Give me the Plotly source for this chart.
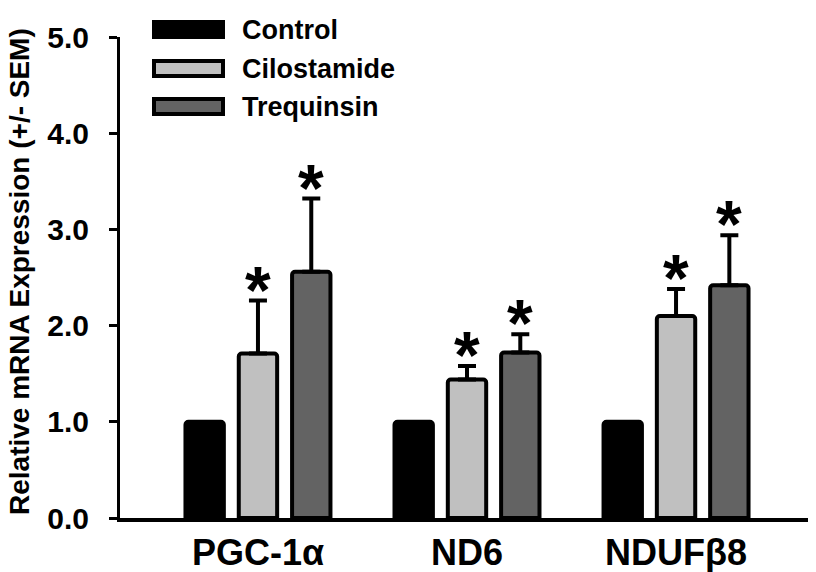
import plotly.graph_objects as go

# ---------------- data ----------------
genes = ["PGC-1α", "ND6", "NDUFβ8"]
series_names = ["Control", "Cilostamide", "Trequinsin"]
control = [1.0, 1.0, 1.0]
cilostamide = [1.71, 1.44, 2.10]
trequinsin = [2.56, 1.72, 2.42]
control_sem = [0.0, 0.0, 0.0]
cilostamide_sem = [0.55, 0.14, 0.28]
trequinsin_sem = [0.76, 0.19, 0.52]
control_sig = [False, False, False]
cilostamide_sig = [True, True, True]
trequinsin_sig = [True, True, True]
y_ticks = [0, 1, 2, 3, 4, 5]
y_tick_labels = ["0.0", "1.0", "2.0", "3.0", "4.0", "5.0"]
y_title = "Relative mRNA Expression (+/- SEM)"

# ---------------- style ----------------
colors = ["#000000", "#c0c0c0", "#636363"]
FONT = "Liberation Sans, Arial, sans-serif"
BARGAP = 0.235
BARGROUPGAP = 0.28

# page has an 8px body margin -> figure is 808x564 at (8, 8)
W, H = 808, 564
ML, MR, MT, MB = 112, 2, 29, 54
PW, PH = W - ML - MR, H - MT - MB

series_values = [control, cilostamide, trequinsin]
series_sem = [control_sem, cilostamide_sem, trequinsin_sem]
series_sig = [control_sig, cilostamide_sig, trequinsin_sig]

fig = go.Figure()
for name, vals, sem, col in zip(series_names, series_values, series_sem, colors):
    fig.add_trace(go.Bar(
        name=name, x=genes, y=vals,
        marker=dict(color=col, line=dict(color="black", width=4), cornerradius=3),
        error_y=dict(type="data", array=sem, arrayminus=[0] * len(sem),
                     symmetric=False, visible=any(s > 0 for s in sem),
                     color="black", thickness=4, width=9),
        showlegend=False,
    ))

# asterisks above error bars
n = len(series_names)
slot = (1 - BARGAP) / n
annotations = []
for i, (vals, sem, sig) in enumerate(zip(series_values, series_sem, series_sig)):
    for j, g in enumerate(genes):
        if sig[j]:
            annotations.append(dict(
                x=j + (i - (n - 1) / 2) * slot, y=vals[j] + sem[j], xref="x", yref="y",
                text="<b>*</b>", showarrow=False, yanchor="bottom", xanchor="center",
                yshift=-28, font=dict(family=FONT, size=66, color="black")))


def px_x(p):
    return (p - ML) / PW


def px_y(p):
    return 1 - (p - MT) / PH


# manual legend (wide rectangular swatches), pixel positions in figure coords
legend_rows_y = [21.5, 60.5, 98.5]
shapes = []
for name, col, yc in zip(series_names, colors, legend_rows_y):
    shapes.append(dict(type="rect", xref="paper", yref="paper",
                       x0=px_x(146), x1=px_x(215),
                       y0=px_y(yc + 7.5), y1=px_y(yc - 7.5), fillcolor=col,
                       line=dict(color="black", width=4)))
    annotations.append(dict(x=px_x(232), y=px_y(yc + 1), xref="paper", yref="paper",
                            text="<b>%s</b>" % name, showarrow=False,
                            xanchor="left", yanchor="middle",
                            font=dict(family=FONT, size=27, color="black")))

# y-axis title as rotated annotation
annotations.append(dict(x=px_x(11), y=px_y(264), xref="paper", yref="paper",
                        text="<b>%s</b>" % y_title, textangle=-90, showarrow=False,
                        xanchor="center", yanchor="middle",
                        font=dict(family=FONT, size=28, color="black")))

fig.update_layout(
    width=W, height=H,
    margin=dict(l=ML, r=MR, t=MT, b=MB, autoexpand=False),
    barmode="group", bargap=BARGAP, bargroupgap=BARGROUPGAP,
    plot_bgcolor="white", paper_bgcolor="white",
    font=dict(family=FONT, color="black"),
    shapes=shapes, annotations=annotations,
)
fig.update_xaxes(
    range=[-0.66, 2.66], showline=True, linecolor="black", linewidth=4,
    ticks="", showgrid=False, zeroline=False, automargin=False,
    tickfont=dict(family=FONT, size=36, color="black"),
    tickvals=list(range(len(genes))), ticktext=["<b>%s</b>" % g for g in genes],
)
fig.update_yaxes(
    range=[0, 5], tickvals=y_ticks, ticktext=["<b>%s</b>" % t for t in y_tick_labels],
    showline=True, linecolor="black", linewidth=3, ticks="outside", ticklen=8,
    tickwidth=3, tickcolor="black", showgrid=False, zeroline=False, automargin=False,
    ticklabelstandoff=14,
    tickfont=dict(family=FONT, size=30, color="black"),
)

fig.write_html("out.html")
